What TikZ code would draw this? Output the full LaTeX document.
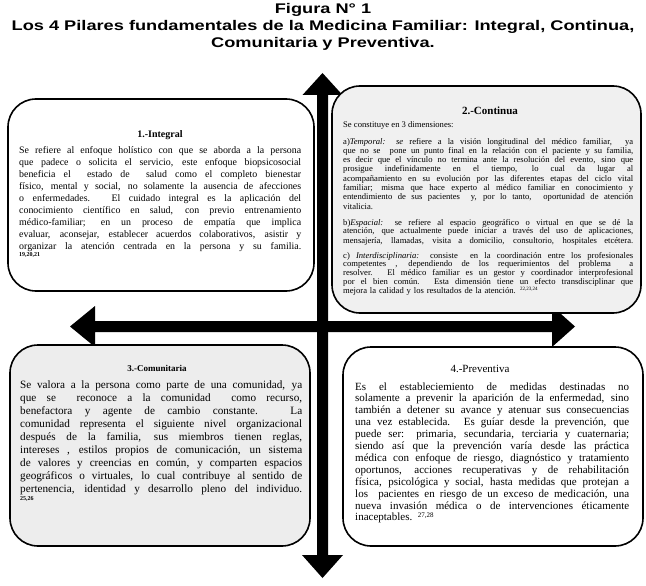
\documentclass[tikz,border=0pt]{standalone}
\usepackage{fontspec}
\setmainfont{Liberation Serif}
\newfontfamily\titlefont[FakeStretch=1.3]{Liberation Sans}
\newcommand\jl[1]{{\spaceskip=0pt\xspaceskip=0pt\makebox[\hsize][s]{#1}}}
\begin{document}
\begin{tikzpicture}[x=1pt,y=-1pt,
  pillar/.style={draw=black, line width=1.6pt, rounded corners=28pt, inner sep=0pt},
  body/.style={anchor=base west, inner sep=0pt, align=left},
  ttl/.style={anchor=base, inner sep=0pt},
  blockarrow/.style={fill=black}]
\useasboundingbox (0,0) rectangle (646,586);
% title
\node[anchor=north, inner sep=0pt, align=center, font=\titlefont\bfseries\fontsize{14}{17}\selectfont] (title) at (323,3)
 {Figura N° 1\\Los 4 Pilares fundamentales de la Medicina Familiar: Integral, Continua,\\Comunitaria y Preventiva.};
% cross arrows
\coordinate (vt) at (322.5,73);
\coordinate (vb) at (322.5,578);
\coordinate (hl) at (70,326.5);
\coordinate (hr) at (575,326.5);
\fill[blockarrow] (vt) -- (342.5,95) -- (328,95) -- (328,555) -- (343,555) -- (vb) -- (302,555) -- (317,555) -- (317,95) -- (302.5,95) -- cycle;
\fill[blockarrow] (hl) -- (95,306) -- (95,321) -- (552,321) -- (552,306) -- (hr) -- (552,347) -- (552,332) -- (95,332) -- (95,347) -- cycle;
% boxes
\draw[pillar, fill=white] (8,99) rectangle (314,291);
\draw[pillar, fill=black!6] (332,86) rectangle (641,313);
\draw[pillar, fill=black!7] (10,345) rectangle (310,546);
\draw[pillar, fill=white] (343,347) rectangle (643,546);
% box 1
\node[ttl, font=\bfseries\fontsize{10}{12}\selectfont] (t1) at (160,138) {1.-Integral};
\node[body, text width=282, font=\fontsize{9.9}{12}\selectfont] (p1) at (19,153.5) {%
\jl{Se refiere al enfoque holístico con que se aborda a la persona}\\
\jl{que padece o solicita el servicio, este enfoque biopsicosocial}\\
\jl{beneficia el \ estado de \ salud como el completo bienestar}\\
\jl{físico, mental y social, no solamente la ausencia de afecciones}\\
\jl{o enfermedades. El cuidado integral es la aplicación del}\\
\jl{conocimiento científico en salud, con previo entrenamiento}\\
\jl{médico-familiar; en un proceso de empatía que implica}\\
\jl{evaluar, aconsejar, establecer acuerdos colaborativos, asistir y}\\
\jl{organizar la atención centrada en la persona y su familia.}};
\node[body, font=\bfseries\fontsize{6}{7}\selectfont] (r1) at (19,256) {19,20,21};
% box 2
\node[ttl, font=\bfseries\fontsize{11}{12}\selectfont] (t2) at (490,114) {2.-Continua};
\node[body, font=\fontsize{8.6}{9.3}\selectfont] (p2) at (343,128) {Se constituye en 3 dimensiones:};
\node[body, text width=290, font=\fontsize{8.6}{9.3}\selectfont] (p2a) at (343,144) {%
\jl{a)\textit{Temporal: se} refiere a la visión longitudinal del médico familiar, \ ya}\\
\jl{que no se \ pone un punto final en la relación con el paciente y su familia,}\\
\jl{es decir que el vínculo no termina ante la resolución del evento, sino que}\\
\jl{prosigue indefinidamente en el tiempo, lo cual da lugar al}\\
\jl{acompañamiento en su evolución por las diferentes etapas del ciclo vital}\\
\jl{familiar; misma que hace experto al médico familiar en conocimiento y}\\
\jl{entendimiento de sus pacientes \ y, por lo tanto, \ oportunidad de atención}\\
vitalicia.};
\node[body, text width=290, font=\fontsize{8.6}{9}\selectfont] (p2b) at (343,225) {%
\jl{b)\textit{Espacial:} se refiere al espacio geográfico o virtual en que se dé la}\\
\jl{atención, que actualmente puede iniciar a través del uso de aplicaciones,}\\
\jl{mensajería, llamadas, visita a domicilio, consultorio, hospitales etcétera.}};
\node[body, text width=290, font=\fontsize{8.6}{8.8}\selectfont] (p2c) at (343,258) {%
\jl{c) \textit{Interdisciplinaria:} consiste \ en la coordinación entre los profesionales}\\
\jl{competentes , dependiendo de los requerimientos del problema \ a}\\
\jl{resolver. El médico familiar es un gestor y coordinador interprofesional}\\
\jl{por el bien común. Esta dimensión tiene un efecto transdisciplinar que}\\
mejora la calidad y los resultados de la atención. {\fontsize{5}{6}\selectfont\raisebox{3pt}{22,23,24}}};
% box 3
\node[ttl, font=\bfseries\fontsize{9}{11}\selectfont] (t3) at (157,371) {3.-Comunitaria};
\node[body, text width=282, font=\fontsize{11.2}{13}\selectfont] (p3) at (20,388) {%
\jl{Se valora a la persona como parte de una comunidad, ya}\\
\jl{que se \ reconoce a la comunidad \ como recurso,}\\
\jl{benefactora y agente de cambio constante. La}\\
\jl{comunidad representa el siguiente nivel organizacional}\\
\jl{después de la familia, sus miembros tienen reglas,}\\
\jl{intereses , estilos propios de comunicación, un sistema}\\
\jl{de valores y creencias en común, y comparten espacios}\\
\jl{geográficos o virtuales, lo cual contribuye al sentido de}\\
\jl{pertenencia, identidad y desarrollo pleno del individuo.}};
\node[body, font=\bfseries\fontsize{6}{7}\selectfont] (r3) at (20,500) {25,26};
% box 4
\node[ttl, font=\fontsize{11}{12}\selectfont] (t4) at (480,372) {4.-Preventiva};
\node[body, text width=274, font=\fontsize{11}{11.9}\selectfont] (p4) at (355,390) {%
\jl{Es el estableciemiento de medidas destinadas no}\\
\jl{solamente a prevenir la aparición de la enfermedad, sino}\\
\jl{también a detener su avance y atenuar sus consecuencias}\\
\jl{una vez establecida. Es guíar desde la prevención, que}\\
\jl{puede ser: primaria, secundaria, terciaria y cuaternaria;}\\
\jl{siendo así que la prevención varía desde las práctica}\\
\jl{médica con enfoque de riesgo, diagnóstico y tratamiento}\\
\jl{oportunos, acciones recuperativas y de rehabilitación}\\
\jl{física, psicológica y social, hasta medidas que protejan a}\\
\jl{los \ pacientes en riesgo de un exceso de medicación, una}\\
\jl{nueva invasión médica o de intervenciones éticamente}\\
inaceptables. {\fontsize{7}{8}\selectfont\raisebox{3pt}{27,28}}};
\end{tikzpicture}
\end{document}
